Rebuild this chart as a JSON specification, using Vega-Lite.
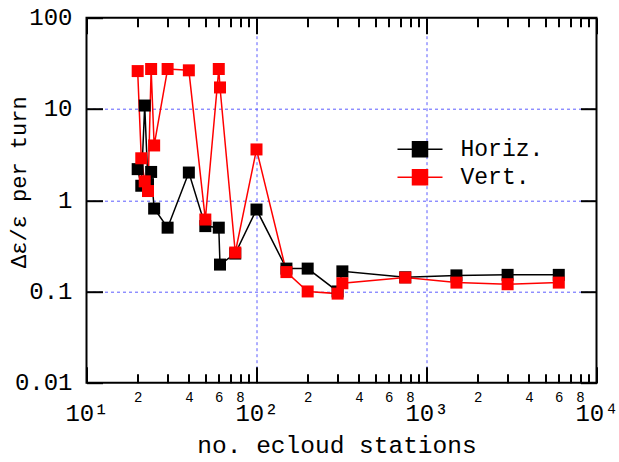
{
  "$schema": "https://vega.github.io/schema/vega-lite/v6.json",
  "width": 510,
  "height": 365,
  "autosize": "none",
  "padding": {"left": 86.5, "top": 17.7, "right": 22.5, "bottom": 79.3},
  "config": {
    "view": {"stroke": "#000000", "strokeWidth": 2},
    "font": "Liberation Mono",
    "axis": {
      "labelFont": "Liberation Mono",
      "titleFont": "Liberation Mono",
      "titleFontWeight": "normal",
      "labelColor": "#000000",
      "titleColor": "#000000",
      "tickColor": "#000000",
      "tickWidth": 2,
      "domain": false,
      "gridColor": "#5c5cff",
      "gridDash": [3, 3],
      "gridWidth": 1
    }
  },
  "data": {
    "values": [
      {"n": 20, "v": 2.19, "s": "Horiz."},
      {"n": 21, "v": 1.44, "s": "Horiz."},
      {"n": 22, "v": 10.9, "s": "Horiz."},
      {"n": 23, "v": 1.5, "s": "Horiz."},
      {"n": 24, "v": 2.04, "s": "Horiz."},
      {"n": 25, "v": 0.81, "s": "Horiz."},
      {"n": 30, "v": 0.5, "s": "Horiz."},
      {"n": 40, "v": 2.01, "s": "Horiz."},
      {"n": 50, "v": 0.52, "s": "Horiz."},
      {"n": 60, "v": 0.5, "s": "Horiz."},
      {"n": 61, "v": 0.197, "s": "Horiz."},
      {"n": 75, "v": 0.26, "s": "Horiz."},
      {"n": 100, "v": 0.79, "s": "Horiz."},
      {"n": 150, "v": 0.178, "s": "Horiz."},
      {"n": 200, "v": 0.178, "s": "Horiz."},
      {"n": 300, "v": 0.1, "s": "Horiz."},
      {"n": 320, "v": 0.166, "s": "Horiz."},
      {"n": 750, "v": 0.143, "s": "Horiz."},
      {"n": 1500, "v": 0.15, "s": "Horiz."},
      {"n": 3000, "v": 0.152, "s": "Horiz."},
      {"n": 6000, "v": 0.152, "s": "Horiz."},
      {"n": 20, "v": 26.0, "s": "Vert."},
      {"n": 21, "v": 2.88, "s": "Vert."},
      {"n": 22, "v": 1.61, "s": "Vert."},
      {"n": 23, "v": 1.26, "s": "Vert."},
      {"n": 24, "v": 27.4, "s": "Vert."},
      {"n": 25, "v": 3.98, "s": "Vert."},
      {"n": 30, "v": 27.4, "s": "Vert."},
      {"n": 40, "v": 26.5, "s": "Vert."},
      {"n": 50, "v": 0.614, "s": "Vert."},
      {"n": 60, "v": 27.4, "s": "Vert."},
      {"n": 61, "v": 17.2, "s": "Vert."},
      {"n": 75, "v": 0.267, "s": "Vert."},
      {"n": 100, "v": 3.6, "s": "Vert."},
      {"n": 150, "v": 0.163, "s": "Vert."},
      {"n": 200, "v": 0.1, "s": "Vert."},
      {"n": 300, "v": 0.0947, "s": "Vert."},
      {"n": 320, "v": 0.123, "s": "Vert."},
      {"n": 750, "v": 0.142, "s": "Vert."},
      {"n": 1500, "v": 0.125, "s": "Vert."},
      {"n": 3000, "v": 0.12, "s": "Vert."},
      {"n": 6000, "v": 0.125, "s": "Vert."}
    ]
  },
  "encoding": {
    "color": {
      "field": "s",
      "type": "nominal",
      "scale": {"domain": ["Horiz.", "Vert."], "range": ["#000000", "#ff0000"]},
      "legend": {
        "orient": "none",
        "legendX": 322,
        "legendY": 120,
        "title": null,
        "symbolType": "M-3,0H3M-1,-1H1V1H-1Z",
        "symbolSize": 225,
        "symbolStrokeWidth": 1.5,
        "labelFont": "Liberation Mono",
        "labelFontSize": 23,
        "labelColor": "#000000",
        "labelOffset": 29,
        "rowPadding": 4,
        "encode": {
          "symbols": {
            "update": {
              "fill": {"scale": "color", "field": "value"},
              "stroke": {"scale": "color", "field": "value"},
              "opacity": {"value": 1}
            }
          }
        }
      }
    }
  },
  "layer": [
    {
      "mark": {"type": "line", "strokeWidth": 1.5},
      "encoding": {
        "x": {
          "field": "n",
          "type": "quantitative",
          "scale": {"type": "log", "domain": [10, 10000], "nice": false},
          "axis": {
            "orient": "bottom",
            "values": [10, 20, 30, 40, 50, 60, 70, 80, 90, 100, 200, 300, 400, 500, 600, 700, 800, 900, 1000, 2000, 3000, 4000, 5000, 6000, 7000, 8000, 9000, 10000],
            "labelExpr": "datum.value==10?'10¹':datum.value==100?'10²':datum.value==1000?'10³':datum.value==10000?'10⁴':(test(regexp('^[2468]'), ''+datum.value)?substring(''+datum.value,0,1):'')",
            "labelFontSize": {"condition": {"test": "indexof([10,100,1000,10000], datum.value) >= 0", "value": 24}, "value": 14},
            "labelPadding": {"condition": {"test": "indexof([10,100,1000,10000], datum.value) >= 0", "value": 35}, "value": 16.5},
            "tickSize": {"condition": {"test": "indexof([10,100,1000,10000], datum.value) >= 0", "value": -16}, "value": -9},
            "labelBaseline": "top",
            "labelFlush": false,
            "labelOverlap": false,
            "labelBound": false,
            "grid": true,
            "gridOpacity": {"condition": {"test": "datum.value==100 || datum.value==1000", "value": 1}, "value": 0},
            "title": "no. ecloud stations",
            "titleFontSize": 24.5,
            "titleX": 250,
            "titleY": 70,
            "titleBaseline": "alphabetic"
          }
        },
        "y": {
          "field": "v",
          "type": "quantitative",
          "scale": {"type": "log", "domain": [0.01, 100], "nice": false},
          "axis": {
            "orient": "left",
            "values": [0.01, 0.1, 1, 10, 100],
            "labelExpr": "''+datum.value",
            "labelFontSize": 24,
            "labelPadding": 30.5,
            "tickSize": -16,
            "labelFlush": false,
            "labelOverlap": false,
            "labelBound": false,
            "grid": true,
            "gridOpacity": {"condition": {"test": "datum.value > 0.05 && datum.value < 50", "value": 1}, "value": 0},
            "title": "Δε/ε per turn",
            "titleFontSize": 22,
            "titleX": -68,
            "titleY": 164,
            "titleBaseline": "middle",
            "titleAngle": -90
          }
        }
      }
    },
    {
      "mark": {"type": "point", "shape": "square", "filled": true, "size": 144, "opacity": 1},
      "encoding": {
        "x": {
          "field": "n",
          "type": "quantitative",
          "scale": {"type": "log", "domain": [10, 10000], "nice": false},
          "axis": {
            "orient": "top",
            "values": [10, 20, 30, 40, 50, 60, 70, 80, 90, 100, 200, 300, 400, 500, 600, 700, 800, 900, 1000, 2000, 3000, 4000, 5000, 6000, 7000, 8000, 9000, 10000],
            "labels": false,
            "tickSize": {"condition": {"test": "indexof([10,100,1000,10000], datum.value) >= 0", "value": -16}, "value": -9},
            "grid": false,
            "title": null
          }
        },
        "y": {
          "field": "v",
          "type": "quantitative",
          "scale": {"type": "log", "domain": [0.01, 100], "nice": false},
          "axis": {
            "orient": "right",
            "values": [0.01, 0.1, 1, 10, 100],
            "labels": false,
            "tickSize": -16,
            "grid": false,
            "title": null
          }
        }
      }
    }
  ],
  "resolve": {"axis": {"x": "independent", "y": "independent"}}
}
